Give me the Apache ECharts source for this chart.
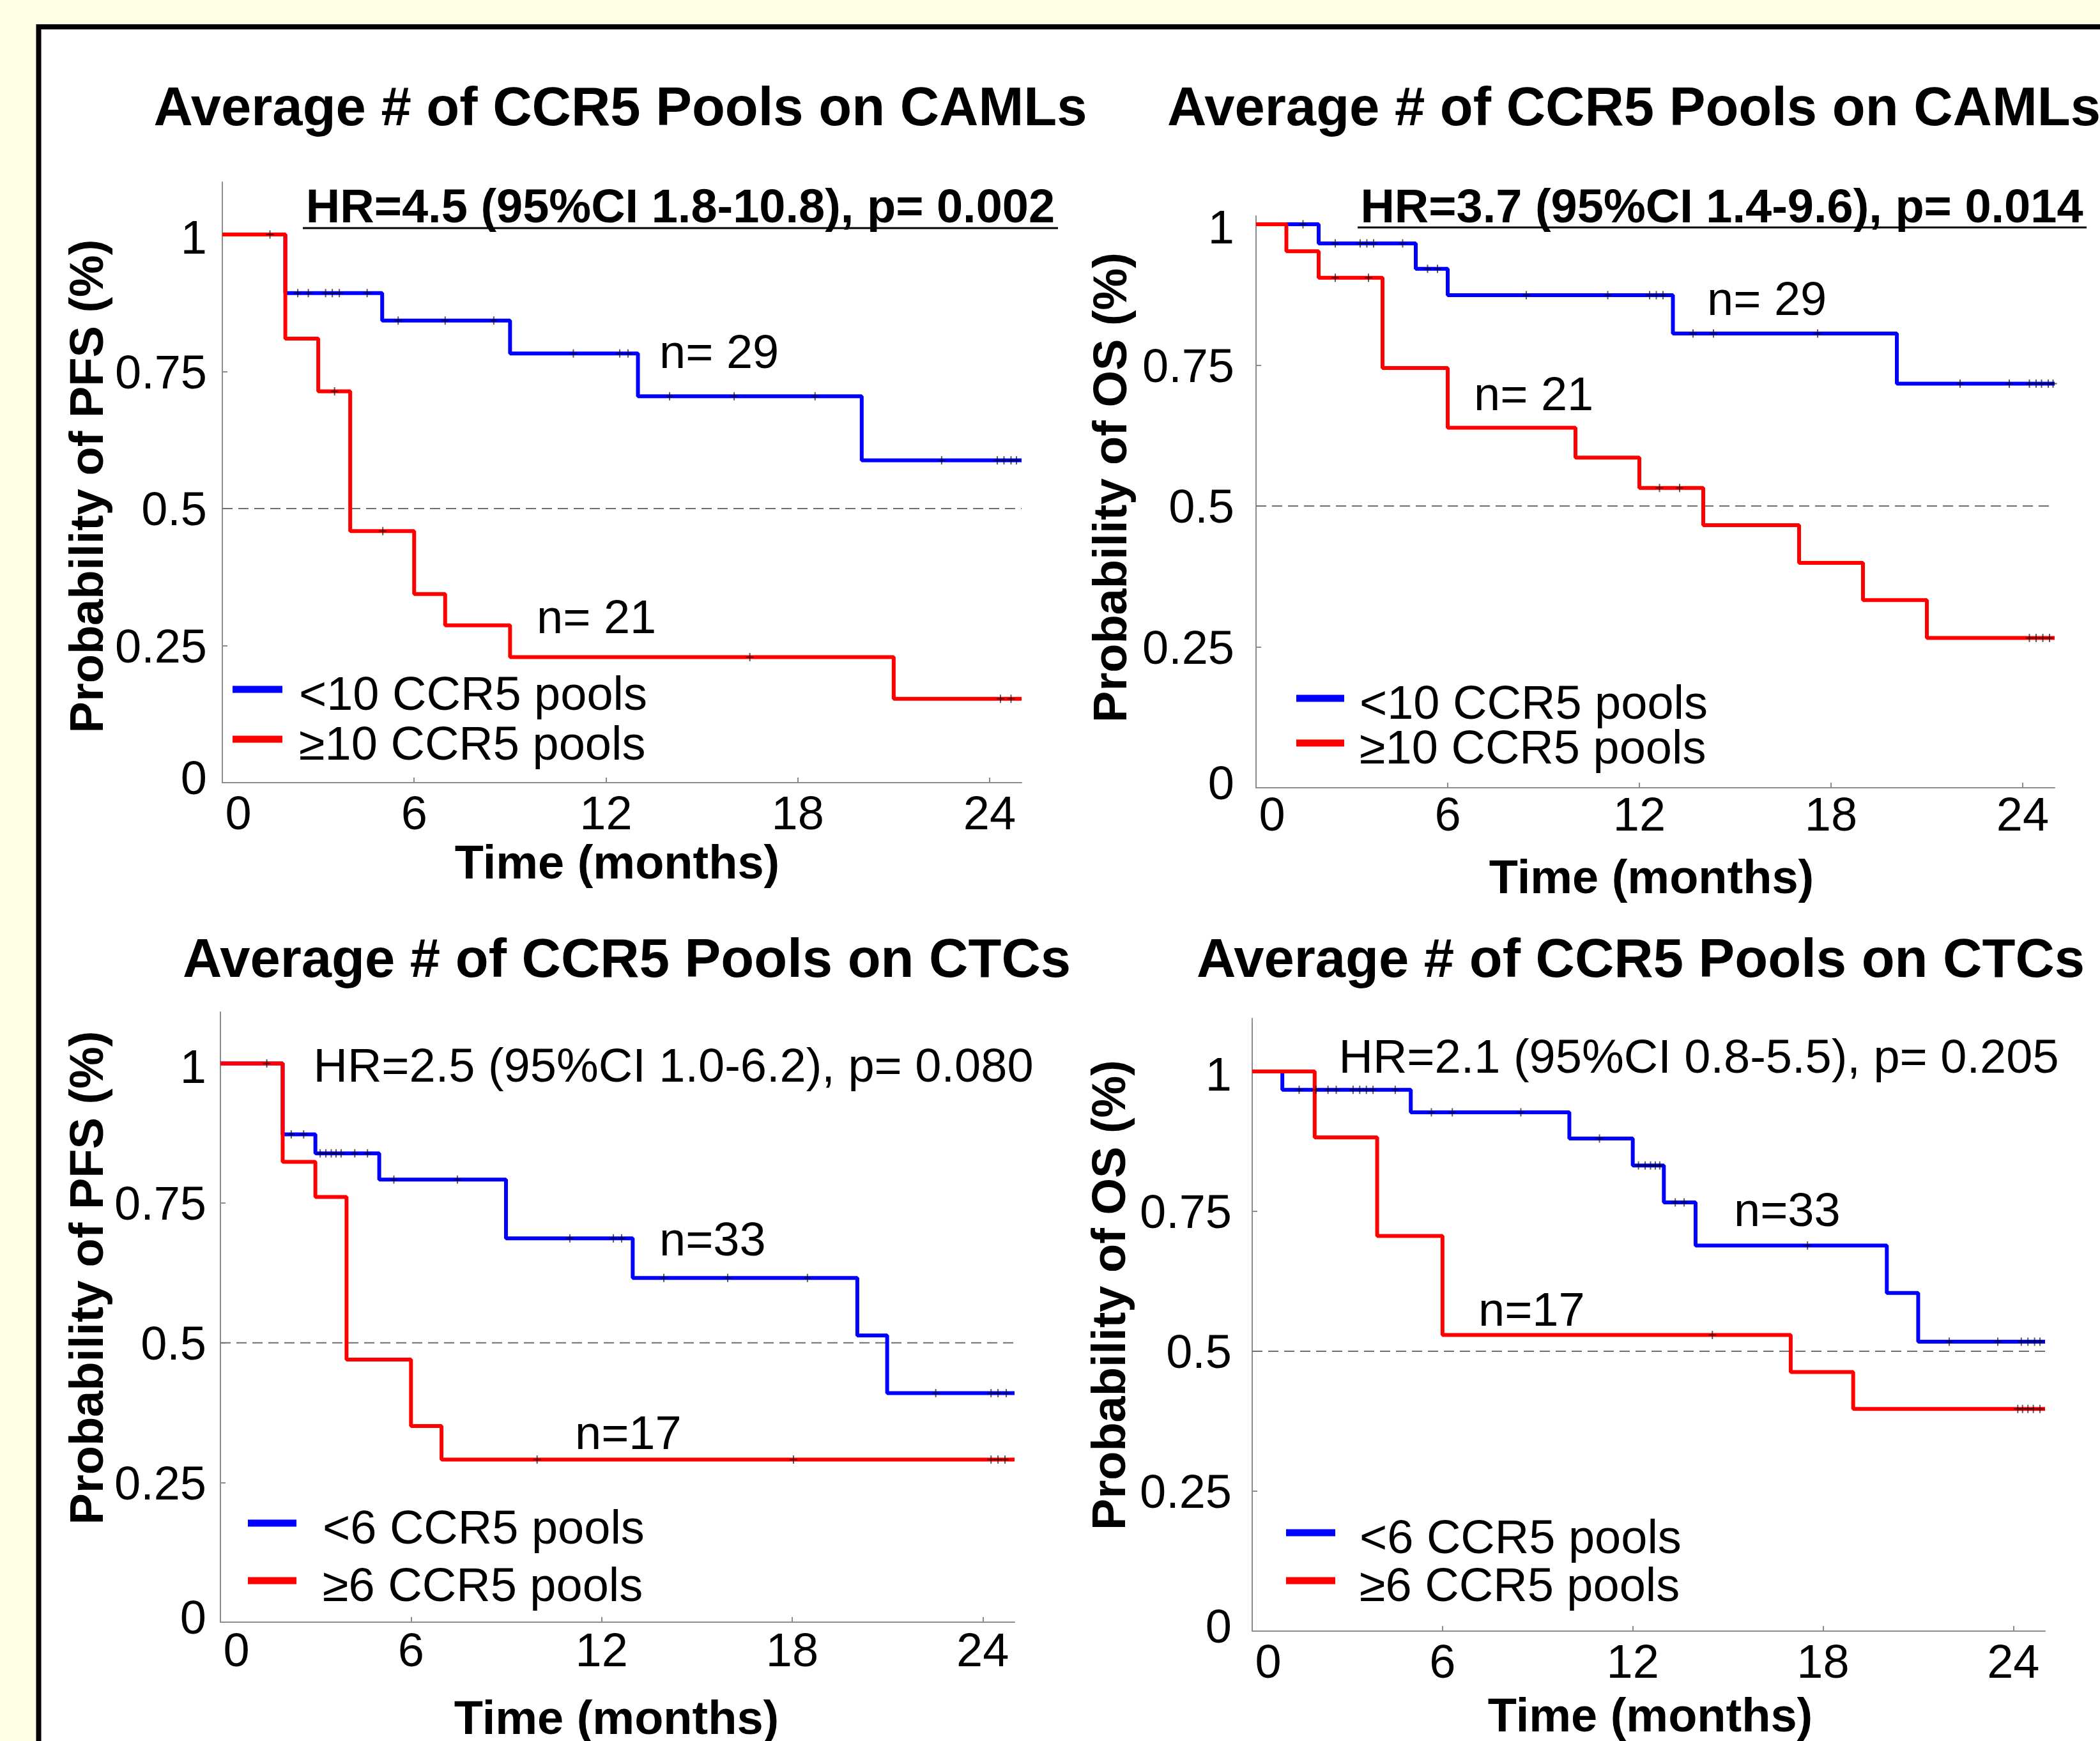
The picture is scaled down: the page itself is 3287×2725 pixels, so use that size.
<!DOCTYPE html>
<html>
<head>
<meta charset="utf-8">
<script src="https://cdn.jsdelivr.net/npm/echarts@6/dist/echarts.min.js"></script>
<style>
  html, body { margin: 0; padding: 0; background: #FFFFE6; }
  #chart { width: 3287px; height: 2725px; }
</style>
</head>
<body>
<div id="chart"></div>
<script>
// axis ticks shared by all four panels
const timeTicks = [0, 6, 12, 18, 24];
const probTicks = [0, 0.25, 0.5, 0.75, 1];
const medianLevel = 0.5;

const camlGroups = ['<10 CCR5 pools', '≥10 CCR5 pools'];
const ctcGroups = ['<6 CCR5 pools', '≥6 CCR5 pools'];

// PFS, CAMLs  [months, survival]
const pfsCamlLow = [[0, 1], [1.97, 0.893], [5.0, 0.843], [9.0, 0.783], [13.0, 0.705], [20.0, 0.588], [25, 0.588]];
const pfsCamlLowCensor = [2.36, 2.69, 3.23, 3.44, 3.66, 4.53, 5.5, 6.97, 8.49, 10.98, 12.43, 12.69, 13.99, 16.01, 18.54, 22.5, 24.24, 24.45, 24.67, 24.84];
const pfsCamlHigh = [[0, 1], [1.97, 0.81], [3.0, 0.714], [4.0, 0.459], [6.0, 0.344], [6.97, 0.287], [9.0, 0.229], [21.0, 0.153], [25, 0.153]];
const pfsCamlHighCensor = [1.49, 3.51, 5.02, 16.5, 24.34, 24.67];

// OS, CAMLs
const osCamlLow = [[0, 1], [1.96, 0.966], [5.0, 0.921], [6.0, 0.874], [13.05, 0.806], [20.06, 0.717], [25, 0.717]];
const osCamlLowCensor = [1.47, 2.48, 3.26, 3.47, 3.68, 4.59, 5.37, 5.68, 8.46, 11.01, 12.32, 12.53, 12.74, 13.68, 14.32, 17.58, 22.04, 23.58, 24.21, 24.42, 24.59, 24.8, 24.95];
const osCamlHigh = [[0, 1], [0.95, 0.952], [1.96, 0.905], [3.96, 0.745], [6.0, 0.639], [10.0, 0.586], [12.0, 0.532], [14.0, 0.466], [17.0, 0.399], [19.0, 0.333], [21.0, 0.266], [25, 0.266]];
const osCamlHighCensor = [2.48, 3.52, 12.63, 13.26, 24.21, 24.42, 24.63, 24.84];

// PFS, CTCs
const pfsCtcLow = [[0, 1], [1.96, 0.873], [2.99, 0.839], [5.0, 0.792], [8.99, 0.687], [12.98, 0.616], [20.05, 0.513], [20.99, 0.41], [25, 0.41]];
const pfsCtcLowCensor = [2.23, 2.62, 3.14, 3.32, 3.49, 3.64, 3.8, 4.23, 4.63, 5.46, 7.46, 11.0, 12.37, 12.63, 13.96, 15.97, 18.48, 22.52, 24.26, 24.48, 24.74];
const pfsCtcHigh = [[0, 1], [1.96, 0.824], [2.99, 0.761], [3.97, 0.47], [6.0, 0.351], [6.96, 0.291], [25, 0.291]];
const pfsCtcHighCensor = [1.46, 9.97, 18.04, 24.26, 24.48, 24.7];

// OS, CTCs
const osCtcLow = [[0, 1], [0.95, 0.967], [5.0, 0.927], [10.0, 0.88], [12.0, 0.832], [12.98, 0.766], [13.98, 0.689], [20.01, 0.604], [21.0, 0.517], [25, 0.517]];
const osCtcLowCensor = [1.48, 2.01, 2.39, 2.65, 3.18, 3.39, 3.6, 3.81, 4.51, 5.65, 6.31, 8.47, 10.95, 12.18, 12.39, 12.56, 12.71, 12.85, 13.34, 13.62, 17.51, 21.98, 23.51, 24.25, 24.46, 24.67, 24.84];
const osCtcHigh = [[0, 1], [1.97, 0.882], [3.94, 0.706], [6.0, 0.529], [16.98, 0.463], [18.95, 0.397], [25, 0.397]];
const osCtcHighCensor = [14.51, 24.14, 24.29, 24.46, 24.63, 24.84];

const FONT = '"Liberation Sans", Arial, Helvetica, sans-serif';
const BLUE = '#0000FF';
const RED = '#FF0000';
const AXIS_GRAY = '#8c8c8c';

const panels = [
  { low: pfsCamlLow, lowCensor: pfsCamlLowCensor, high: pfsCamlHigh, highCensor: pfsCamlHighCensor, groups: camlGroups,
    grid: { left: 348, top: 285, width: 1251, height: 940 }, yMax: 1.0956, xLabelMargin: 16, yLabelMargin: 24,
    legend: { left: 364, top: 1054, gap: 4, iconW: 78, textPad: 21 } },
  { low: osCamlLow, lowCensor: osCamlLowCensor, high: osCamlHigh, highCensor: osCamlHighCensor, groups: camlGroups,
    grid: { left: 1966, top: 338, width: 1250, height: 895 }, yMax: 1.0147, xLabelMargin: 10, yLabelMargin: 34,
    legend: { left: 2029, top: 1068, gap: -4, iconW: 75, textPad: 19 } },
  { low: pfsCtcLow, lowCensor: pfsCtcLowCensor, high: pfsCtcHigh, highCensor: pfsCtcHighCensor, groups: ctcGroups,
    grid: { left: 345, top: 1584, width: 1243, height: 955 }, yMax: 1.092, xLabelMargin: 12, yLabelMargin: 22,
    legend: { left: 388, top: 2359, gap: 16, iconW: 76, textPad: 36 } },
  { low: osCtcLow, lowCensor: osCtcLowCensor, high: osCtcHigh, highCensor: osCtcHighCensor, groups: ctcGroups,
    grid: { left: 1960, top: 1594, width: 1241, height: 959 }, yMax: 1.0947, xLabelMargin: 16, yLabelMargin: 32,
    legend: { left: 2013, top: 2374, gap: 1, iconW: 77, textPad: 33 } }
];

// survival level in force at time t
function levelAt(steps, t) {
  let p = steps[0][1];
  steps.forEach(([time, prob]) => { if (time <= t) p = prob; });
  return p;
}

const PLUS = 'path://M5,0h2v13h-2zM0,5.5h12v2h-12z';
// legend bar sits 12px above the centre of its icon box, so the label reads a little lower
function legendBar(w) {
  return 'path://M0,0h' + w + 'v11h-' + w + 'zM0,34.99h0.01v0.01h-0.01z';
}

// y tick labels sit slightly below their ticks in the original, except "0"
const yLabelRich = {
  one: { fontSize: 74, fontFamily: FONT, color: '#000', padding: [20, 0, 0, 0] },
  mid: { fontSize: 74, fontFamily: FONT, color: '#000', padding: [12, 0, 0, 0] },
  zero: { fontSize: 74, fontFamily: FONT, color: '#000', padding: [0, 0, 4, 0] }
};
function yLabel(v) {
  if (v === 0) return '{zero|0}';
  if (v === 1) return '{one|1}';
  return '{mid|' + v + '}';
}

const grids = [], xAxes = [], yAxes = [], series = [], legends = [];

panels.forEach((pn, i) => {
  grids.push(Object.assign({ outerBoundsMode: 'none' }, pn.grid));
  xAxes.push({
    type: 'value', gridIndex: i, min: 0, max: 25, interval: 6,
    splitLine: { show: false },
    axisLine: { show: true, lineStyle: { color: AXIS_GRAY, width: 2 } },
    axisTick: { show: true, inside: true, length: 8, customValues: timeTicks, lineStyle: { color: AXIS_GRAY, width: 2 } },
    axisLabel: {
      customValues: timeTicks, margin: pn.xLabelMargin,
      fontSize: 74, fontFamily: FONT, color: '#000',
      formatter: v => (v === 0 ? '{z|0}' : String(v)),
      rich: { z: { fontSize: 74, fontFamily: FONT, color: '#000', padding: [0, 0, 0, 50] } }
    }
  });
  yAxes.push({
    type: 'value', gridIndex: i, min: 0, max: pn.yMax,
    splitLine: { show: false },
    axisLine: { show: true, lineStyle: { color: AXIS_GRAY, width: 2 } },
    axisTick: { show: true, inside: true, length: 8, customValues: probTicks, lineStyle: { color: AXIS_GRAY, width: 2 } },
    axisLabel: { customValues: probTicks, margin: pn.yLabelMargin, fontSize: 74, fontFamily: FONT, color: '#000',
      formatter: yLabel, rich: yLabelRich }
  });

  series.push({
    type: 'line', xAxisIndex: i, yAxisIndex: i, silent: true, z: 1,
    data: [[0, medianLevel], [25, medianLevel]], showSymbol: false,
    lineStyle: { color: '#6e6e6e', width: 2, type: [16, 9] }
  });
  [[pn.low, BLUE, pn.groups[0]], [pn.high, RED, pn.groups[1]]].forEach(([steps, col, name]) => {
    series.push({
      name: name, type: 'line', step: 'end', xAxisIndex: i, yAxisIndex: i, z: 3,
      data: steps, showSymbol: false, color: col,
      lineStyle: { color: col, width: 6 }
    });
  });
  [[pn.low, pn.lowCensor], [pn.high, pn.highCensor]].forEach(([steps, cens]) => {
    series.push({
      type: 'scatter', xAxisIndex: i, yAxisIndex: i, z: 5, silent: true,
      symbol: PLUS, symbolSize: [12, 13],
      itemStyle: { color: 'rgba(0,0,0,0.8)' },
      data: cens.map(t => [t, levelAt(steps, t)])
    });
  });

  legends.push({
    data: pn.groups, orient: 'vertical', left: pn.legend.left, top: pn.legend.top,
    itemGap: pn.legend.gap, itemWidth: pn.legend.iconW, itemHeight: 35, icon: legendBar(pn.legend.iconW),
    padding: 0, selectedMode: false,
    textStyle: { fontSize: 74, fontFamily: FONT, color: '#000', padding: [0, 0, 0, pn.legend.textPad] }
  });
});

const TEXT_DY = 7;
function txt(text, x, y, size, bold, align, rotate) {
  return {
    type: 'text', x: rotate ? x + TEXT_DY : x, y: rotate ? y : y + TEXT_DY,
    rotation: rotate ? Math.PI / 2 : 0, silent: true, z: 10,
    style: {
      text: text, fill: '#000', fontSize: size, fontWeight: bold ? 'bold' : 'normal', fontFamily: FONT,
      align: align, verticalAlign: 'middle', textAlign: align, textVerticalAlign: 'middle'
    }
  };
}
function underline(x1, x2, y) {
  return { type: 'line', silent: true, z: 10, shape: { x1: x1, y1: y, x2: x2, y2: y }, style: { stroke: '#000', lineWidth: 3 } };
}

const graphics = [
  { type: 'rect', silent: true, z: -10, shape: { x: 60.5, y: 42, width: 3400, height: 2900 }, style: { fill: '#fff', stroke: '#000', lineWidth: 8 } },

  txt('Average # of CCR5 Pools on CAMLs', 971, 166, 85, true, 'center'),
  txt('HR=4.5 (95%CI 1.8-10.8), p= 0.002', 1065, 321, 74, true, 'center'),
  underline(474, 1656, 357),
  txt('n= 29', 1032, 549, 74, false, 'left'),
  txt('n= 21', 840, 964, 74, false, 'left'),
  txt('Probability of PFS (%)', 134, 761, 74, true, 'center', true),
  txt('Time (months)', 966, 1348, 74, true, 'center'),

  txt('Average # of CCR5 Pools on CAMLs', 1827, 166, 85, true, 'left'),
  txt('HR=3.7 (95%CI 1.4-9.6), p= 0.014', 2695, 321, 74, true, 'center'),
  underline(2125, 3266, 356),
  txt('n= 29', 2672, 466, 74, false, 'left'),
  txt('n= 21', 2307, 615, 74, false, 'left'),
  txt('Probability of OS (%)', 1736, 763, 74, true, 'center', true),
  txt('Time (months)', 2585, 1371, 74, true, 'center'),

  txt('Average # of CCR5 Pools on CTCs', 981, 1499, 85, true, 'center'),
  txt('HR=2.5 (95%CI 1.0-6.2), p= 0.080', 1054, 1666, 74, false, 'center'),
  txt('n=33', 1032, 1938, 74, false, 'left'),
  txt('n=17', 900, 2241, 74, false, 'left'),
  txt('Probability of PFS (%)', 134, 2000, 74, true, 'center', true),
  txt('Time (months)', 965, 2687, 74, true, 'center'),

  txt('Average # of CCR5 Pools on CTCs', 2568, 1499, 85, true, 'center'),
  txt('HR=2.1 (95%CI 0.8-5.5), p= 0.205', 2659, 1652, 74, false, 'center'),
  txt('n=33', 2714, 1892, 74, false, 'left'),
  txt('n=17', 2314, 2048, 74, false, 'left'),
  txt('Probability of OS (%)', 1734, 2027, 74, true, 'center', true),
  txt('Time (months)', 2583, 2683, 74, true, 'center')
];

const option = {
  animation: false,
  backgroundColor: '#FFFFE6',
  textStyle: { fontFamily: FONT },
  grid: grids,
  xAxis: xAxes,
  yAxis: yAxes,
  legend: legends,
  graphic: graphics,
  series: series
};

const chart = echarts.init(document.getElementById('chart'));
chart.setOption(option);
</script>
</body>
</html>
